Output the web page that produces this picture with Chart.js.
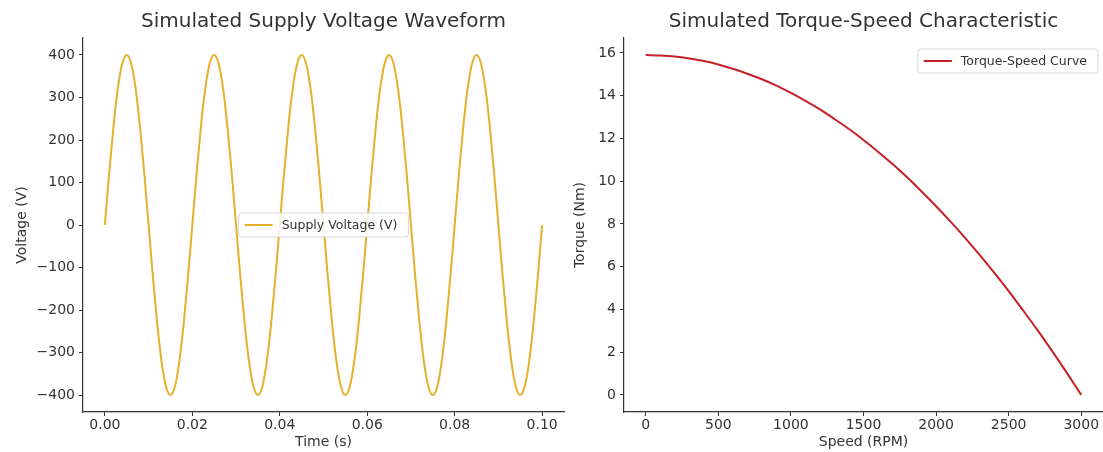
<!DOCTYPE html>
<html>
<head>
<meta charset="utf-8">
<script src="https://cdn.jsdelivr.net/npm/chart.js@4.4.0/dist/chart.umd.min.js"></script>
<style>
body { margin: 0; background: #fff; width: 1103px; height: 452px; overflow: hidden; position: relative; }
.box { position: absolute; top: 0; height: 452px; }
</style>
</head>
<body>
<div class="box" style="left:0;width:570px"><canvas id="voltage-chart"></canvas></div>
<div class="box" style="left:570px;width:533px"><canvas id="torque-chart"></canvas></div>
<script>
// values
const timeS = [
    0, 0.001, 0.002, 0.003, 0.004, 0.005, 0.006, 0.007, 0.008, 0.009,
    0.010, 0.011, 0.012, 0.013, 0.014, 0.015, 0.016, 0.017, 0.018, 0.019,
    0.020, 0.021, 0.022, 0.023, 0.024, 0.025, 0.026, 0.027, 0.028, 0.029,
    0.030, 0.031, 0.032, 0.033, 0.034, 0.035, 0.036, 0.037, 0.038, 0.039,
    0.040, 0.041, 0.042, 0.043, 0.044, 0.045, 0.046, 0.047, 0.048, 0.049,
    0.050, 0.051, 0.052, 0.053, 0.054, 0.055, 0.056, 0.057, 0.058, 0.059,
    0.060, 0.061, 0.062, 0.063, 0.064, 0.065, 0.066, 0.067, 0.068, 0.069,
    0.070, 0.071, 0.072, 0.073, 0.074, 0.075, 0.076, 0.077, 0.078, 0.079,
    0.080, 0.081, 0.082, 0.083, 0.084, 0.085, 0.086, 0.087, 0.088, 0.089,
    0.090, 0.091, 0.092, 0.093, 0.094, 0.095, 0.096, 0.097, 0.098, 0.099,
    0.100
]
const voltageV = [
    0, 123.6, 235.1, 323.6, 380.4, 400, 380.4, 323.6, 235.1, 123.6,
    0, -123.6, -235.1, -323.6, -380.4, -400, -380.4, -323.6, -235.1, -123.6,
    0, 123.6, 235.1, 323.6, 380.4, 400, 380.4, 323.6, 235.1, 123.6,
    0, -123.6, -235.1, -323.6, -380.4, -400, -380.4, -323.6, -235.1, -123.6,
    0, 123.6, 235.1, 323.6, 380.4, 400, 380.4, 323.6, 235.1, 123.6,
    0, -123.6, -235.1, -323.6, -380.4, -400, -380.4, -323.6, -235.1, -123.6,
    0, 123.6, 235.1, 323.6, 380.4, 400, 380.4, 323.6, 235.1, 123.6,
    0, -123.6, -235.1, -323.6, -380.4, -400, -380.4, -323.6, -235.1, -123.6,
    0, 123.6, 235.1, 323.6, 380.4, 400, 380.4, 323.6, 235.1, 123.6,
    0, -123.6, -235.1, -323.6, -380.4, -400, -380.4, -323.6, -235.1, -123.6,
    0
]
const speedRPM = [
    0, 100, 200, 300, 400, 500, 600, 700, 800, 900,
    1000, 1100, 1200, 1300, 1400, 1500, 1600, 1700, 1800, 1900,
    2000, 2100, 2200, 2300, 2400, 2500, 2600, 2700, 2800, 2900,
    3000
]
const torqueNm = [
    15.9, 15.88, 15.83, 15.74, 15.62, 15.46, 15.26, 15.03, 14.77, 14.47,
    14.13, 13.76, 13.36, 12.91, 12.44, 11.93, 11.38, 10.80, 10.18, 9.52,
    8.83, 8.11, 7.35, 6.55, 5.72, 4.86, 3.95, 3.02, 2.05, 1.04,
    0
]
const timeTicks = [0, 0.02, 0.04, 0.06, 0.08, 0.10]
const voltTicks = [-400, -300, -200, -100, 0, 100, 200, 300, 400]
const speedTicks = [0, 500, 1000, 1500, 2000, 2500, 3000]
const torqueTicks = [0, 2, 4, 6, 8, 10, 12, 14, 16]

Chart.defaults.font.family = '"DejaVu Sans", sans-serif'
Chart.defaults.color = '#333'

const ink = '#333'

// matplotlib style legend box drawn inside the plot area
const insideLegend = {
    id: 'insideLegend',
    afterDatasetsDraw(chart, args, opts) {
        const ds = chart.data.datasets[0]
        const c = chart.ctx
        const a = chart.chartArea
        c.save()
        c.font = '12.5px "DejaVu Sans"'
        const w = 46 + c.measureText(ds.label).width + 8
        const h = 24
        let x, y
        if (opts.where === 'center') {
            x = (a.left + a.right) / 2 - w / 2
            y = (a.top + a.bottom) / 2 - h / 2
        } else {
            x = a.right - w - opts.dx
            y = a.top + opts.dy
        }
        c.beginPath()
        c.roundRect(x, y, w, h, 3)
        c.fillStyle = 'rgba(255,255,255,0.85)'
        c.fill()
        c.strokeStyle = '#d6d6d6'
        c.lineWidth = 1
        c.stroke()
        c.beginPath()
        c.moveTo(x + 6, y + h / 2)
        c.lineTo(x + 34, y + h / 2)
        c.strokeStyle = ds.borderColor
        c.lineWidth = 2
        c.stroke()
        c.fillStyle = ink
        c.textBaseline = 'middle'
        c.fillText(ds.label, x + 43, y + h / 2 + 1)
        c.restore()
    }
}

function axis(min, max, ticks, fmt, size, title) {
    const horiz = size === 40
    return {
        type: 'linear',
        min: min,
        max: max,
        afterBuildTicks: s => { s.ticks = ticks.map(v => ({ value: v })) },
        afterFit: s => {
            if (s.isHorizontal()) s.height = size
            else s.width = size
        },
        ticks: { callback: fmt, font: { size: 14 }, color: ink, padding: horiz ? 1 : 4 },
        grid: { drawOnChartArea: false, drawTicks: true, tickLength: 4, color: ink, tickWidth: 1 },
        border: { display: true, color: ink, width: 1.2 },
        title: { display: true, text: title, font: { size: 14 }, color: ink, padding: { top: 2, bottom: 1 } }
    }
}

const minus = v => v < 0 ? '\u2212' + Math.abs(v) : String(v)

function makeChart(id, xs, ys, label, color, opts) {
    return new Chart(document.getElementById(id), {
        type: 'line',
        data: {
            datasets: [{
                label: label,
                data: xs.map((x, i) => ({ x: x, y: ys[i] })),
                borderColor: color,
                borderWidth: 2,
                pointRadius: 0,
                cubicInterpolationMode: 'monotone'
            }]
        },
        options: {
            responsive: true,
            maintainAspectRatio: false,
            animation: false,
            layout: { padding: opts.padding },
            scales: { x: opts.x, y: opts.y },
            plugins: {
                legend: { display: false },
                tooltip: { enabled: false },
                title: {
                    display: true,
                    text: opts.title,
                    fullSize: false,
                    color: ink,
                    font: { size: 20, weight: 'normal' },
                    padding: { top: 10, bottom: 4 }
                },
                insideLegend: opts.legend
            }
        },
        plugins: [insideLegend]
    })
}

makeChart('voltage-chart', timeS, voltageV, 'Supply Voltage (V)', '#e6b02c', {
    title: 'Simulated Supply Voltage Waveform',
    padding: { left: 12, right: 6, top: 0, bottom: 0 },
    x: axis(-0.005, 0.105, timeTicks, v => v.toFixed(2), 40, 'Time (s)'),
    y: axis(-440, 440, voltTicks, minus, 71, 'Voltage (V)'),
    legend: { where: 'center' }
})

makeChart('torque-chart', speedRPM, torqueNm, 'Torque-Speed Curve', '#c42026', {
    title: 'Simulated Torque-Speed Characteristic',
    padding: { left: 0, right: 0, top: 0, bottom: 0 },
    x: axis(-150, 3150, speedTicks, v => String(v), 40, 'Speed (RPM)'),
    y: axis(-0.8, 16.7, torqueTicks, v => String(v), 54, 'Torque (Nm)'),
    legend: { where: 'upper right', dx: 5, dy: 11 }
})
</script>
</body>
</html>
